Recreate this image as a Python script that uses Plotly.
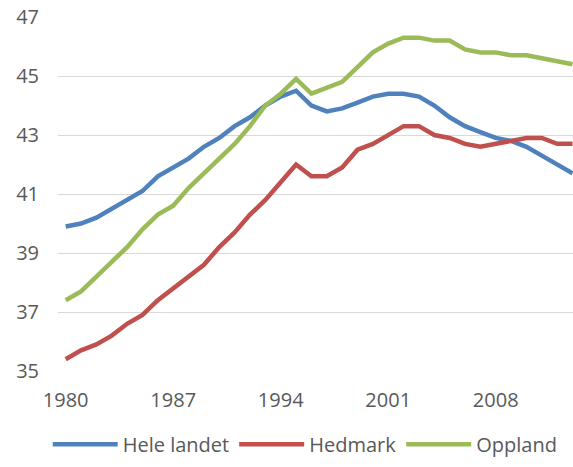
import plotly.graph_objects as go

years = list(range(1980, 2014))
hele_landet = [39.9, 40.0, 40.2, 40.5, 40.8, 41.1, 41.6, 41.9, 42.2, 42.6, 42.9, 43.3, 43.6, 44.0, 44.3,
               44.5, 44.0, 43.8, 43.9, 44.1, 44.3, 44.4, 44.4, 44.3, 44.0, 43.6, 43.3, 43.1, 42.9, 42.8,
               42.6, 42.3, 42.0, 41.7]
hedmark = [35.4, 35.7, 35.9, 36.2, 36.6, 36.9, 37.4, 37.8, 38.2, 38.6, 39.2, 39.7, 40.3, 40.8, 41.4,
           42.0, 41.6, 41.6, 41.9, 42.5, 42.7, 43.0, 43.3, 43.3, 43.0, 42.9, 42.7, 42.6, 42.7, 42.8,
           42.9, 42.9, 42.7, 42.7]
oppland = [37.4, 37.7, 38.2, 38.7, 39.2, 39.8, 40.3, 40.6, 41.2, 41.7, 42.2, 42.7, 43.3, 44.0, 44.4,
           44.9, 44.4, 44.6, 44.8, 45.3, 45.8, 46.1, 46.3, 46.3, 46.2, 46.2, 45.9, 45.8, 45.8, 45.7,
           45.7, 45.6, 45.5, 45.4]
x_ticks = [1980, 1987, 1994, 2001, 2008]
y_ticks = [35, 37, 39, 41, 43, 45, 47]

series = [("Hele landet", hele_landet, "#4F81BD"),
          ("Hedmark", hedmark, "#C0504D"),
          ("Oppland", oppland, "#9BBB59")]

fig = go.Figure()
for name, vals, col in series:
    fig.add_trace(go.Scatter(x=years, y=vals, name=name, mode="lines",
                             line=dict(color=col, width=4.5)))

font = dict(family="Open Sans", size=20, color="#595959")
fig.update_layout(
    width=573, height=467,
    margin=dict(l=58, r=0, t=17, b=96, autoexpand=False),
    paper_bgcolor="white", plot_bgcolor="white",
    font=font,
    showlegend=True,
    legend=dict(orientation="h", x=0.48, xanchor="center", y=-0.262, yanchor="bottom",
                font=dict(family="Open Sans", size=20, color="#595959"),
                itemwidth=65, tracegroupgap=0, borderwidth=0,
                bgcolor="rgba(0,0,0,0)"),
    xaxis=dict(range=[1979.5, 2013.03], tickmode="array", tickvals=x_ticks,
               showgrid=False, zeroline=False, showline=False, ticks="",
               ticklabelstandoff=15, automargin=False),
    yaxis=dict(range=[35, 47], tickmode="array", tickvals=y_ticks,
               showgrid=True, gridcolor="#D9D9D9", gridwidth=1.3, zeroline=False,
               showline=False, ticks="", ticklabelstandoff=18, automargin=False),
)
fig.write_html("out.html", config={"displayModeBar": False},
               post_script="document.body.style.margin='0';document.body.style.overflow='hidden';")
